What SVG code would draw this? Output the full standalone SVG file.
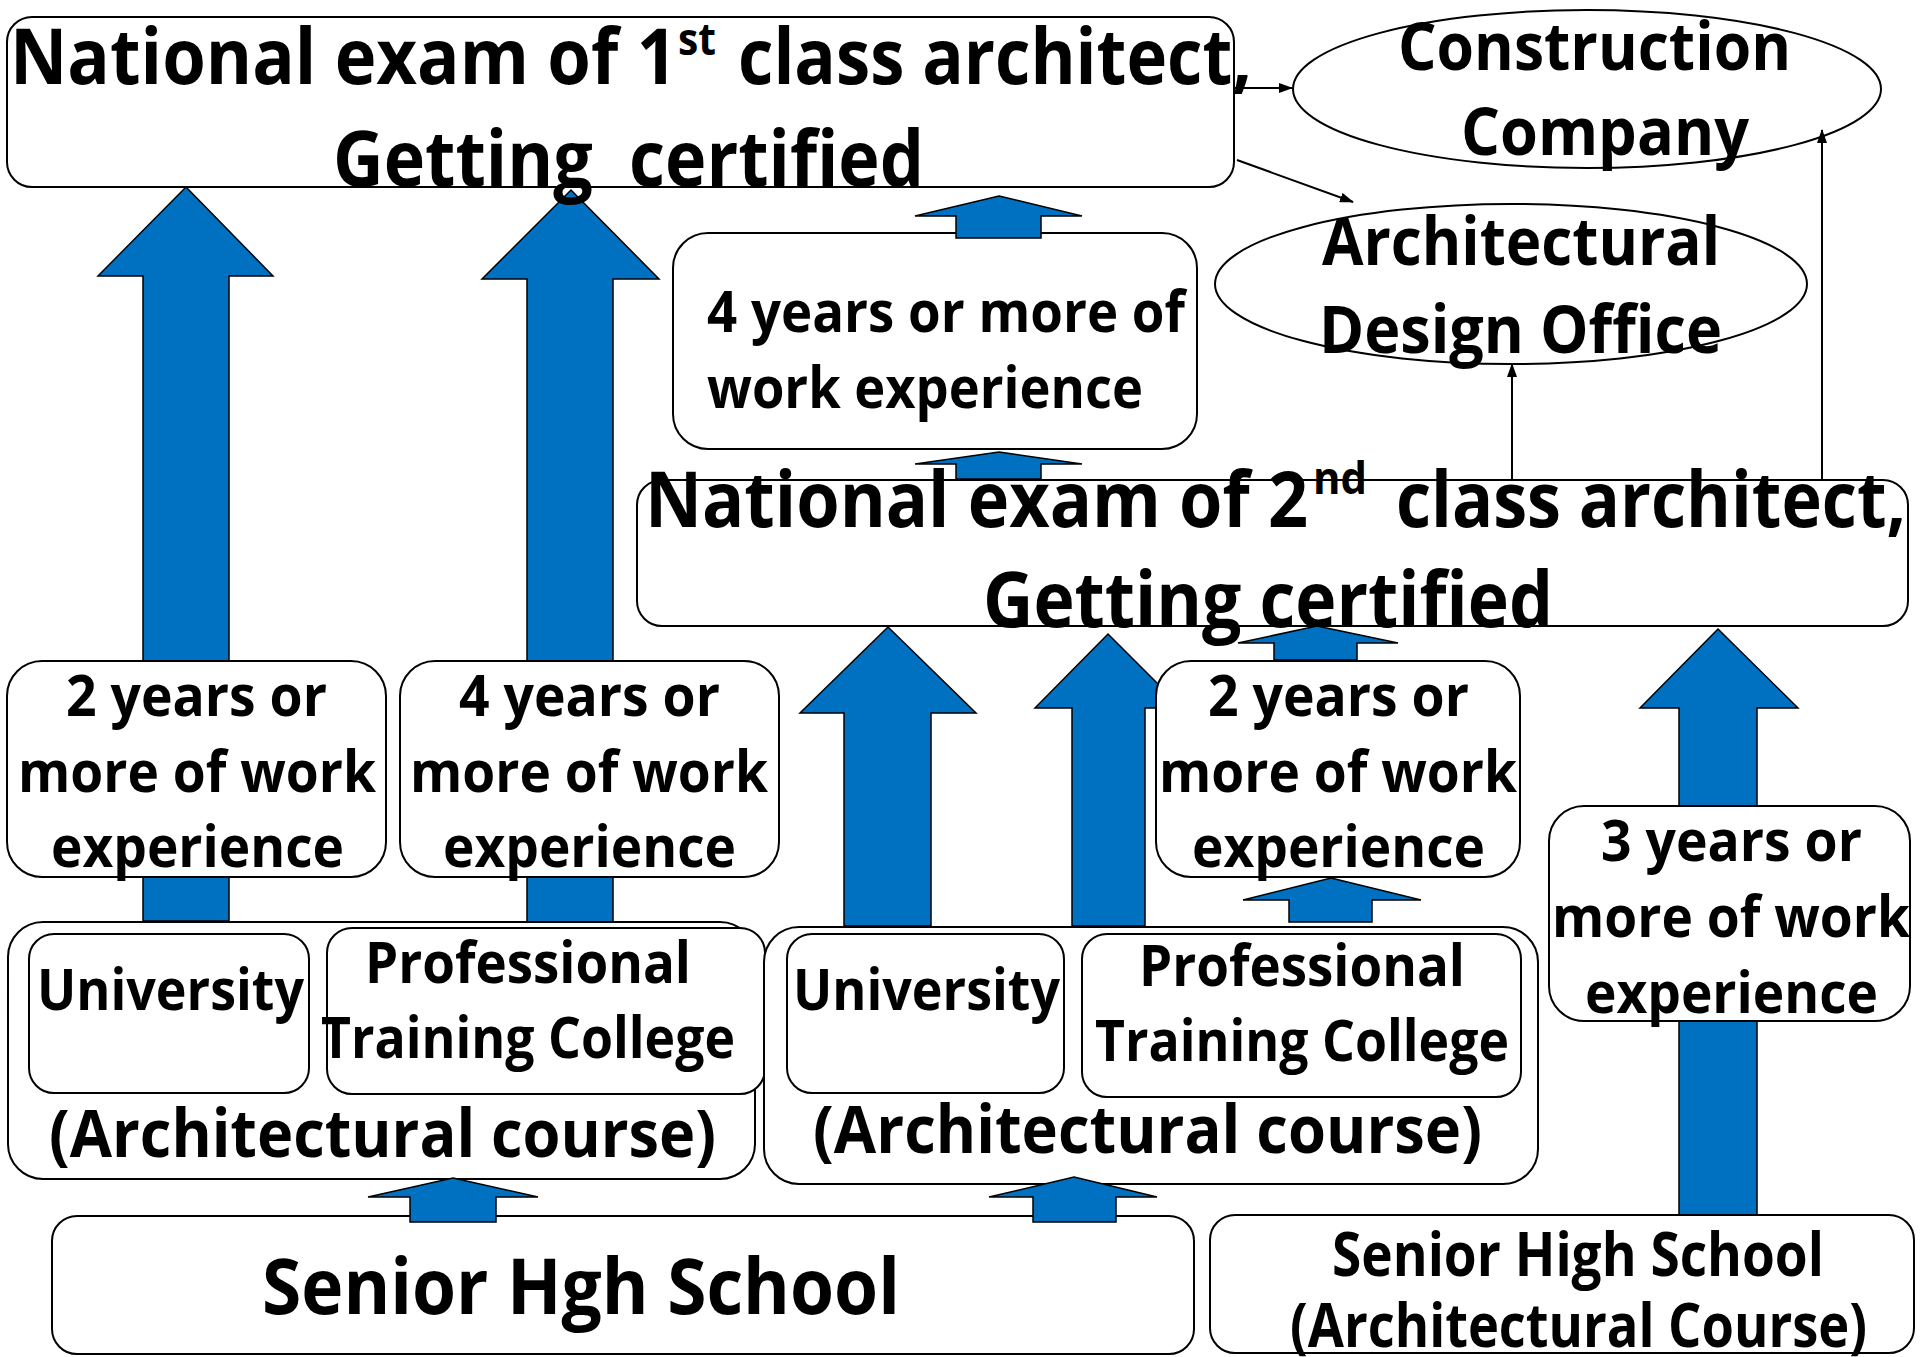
<svg xmlns="http://www.w3.org/2000/svg" width="1920" height="1357" viewBox="0 0 1920 1357">
<defs>
<style>
.box{fill:#fff;stroke:#000;stroke-width:2}
.ell{fill:#fff;stroke:#000;stroke-width:2}
.t{font-family:"Open Sans","Liberation Sans",sans-serif;font-weight:700;fill:#000}
.f77{font-size:77px}
.f67{font-size:67px}
.f58{font-size:58px}
.f60{font-size:60px}
.sup{font-size:44px}
.blk{fill:#0070C0;stroke:#000;stroke-width:1.5}
.ln{stroke:#000;stroke-width:2;fill:none;marker-end:url(#ah)}
</style>
<marker id="ah" viewBox="0 0 14 10" refX="13" refY="5" markerWidth="14" markerHeight="10" markerUnits="userSpaceOnUse" orient="auto">
<path d="M0,0 L14,5 L0,10 Z" fill="#000"/>
</marker>
</defs>
<rect width="1920" height="1357" fill="#fff"/>

<g id="connectors">
<path class="blk" d="M186,187 L273,276 L229,276 L229,921 L143,921 L143,276 L98,276 Z"/>
<path class="blk" d="M571,190 L659,279 L613,279 L613,926 L527,926 L527,279 L482,279 Z"/>
<path class="blk" d="M888,627 L976,713 L931,713 L931,926 L844,926 L844,713 L800,713 Z"/>
<path class="blk" d="M1108,634 L1182,708 L1145,708 L1145,926 L1072,926 L1072,708 L1035,708 Z"/>
<path class="blk" d="M1718,629 L1798,708 L1757,708 L1757,1215 L1679,1215 L1679,708 L1640,708 Z"/>
</g>

<g id="node-exam1">
<rect class="box" x="7" y="17" width="1227" height="170" rx="25"/>
<text class="t f77" x="10" y="84" textLength="667" lengthAdjust="spacingAndGlyphs">National exam of 1</text>
<text class="t sup" x="678" y="55" textLength="38" lengthAdjust="spacingAndGlyphs">st</text>
<text class="t f77" x="738" y="84" textLength="514" lengthAdjust="spacingAndGlyphs">class architect,</text>
<text class="t f77" x="333" y="186" textLength="591" lengthAdjust="spacingAndGlyphs" xml:space="preserve">Getting  certified</text>
</g>

<g id="node-construction">
<ellipse class="ell" cx="1587" cy="89" rx="294" ry="79"/>
<text class="t f67" x="1398" y="70" textLength="393" lengthAdjust="spacingAndGlyphs">Construction</text>
<text class="t f67" x="1461" y="155" textLength="288" lengthAdjust="spacingAndGlyphs">Company</text>
</g>

<g id="node-design-office">
<ellipse class="ell" cx="1511" cy="284" rx="296" ry="80"/>
<text class="t f67" x="1322" y="265" textLength="398" lengthAdjust="spacingAndGlyphs">Architectural</text>
<text class="t f67" x="1319" y="353" textLength="403" lengthAdjust="spacingAndGlyphs">Design Office</text>
</g>

<g id="node-exp4-top">
<rect class="box" x="673" y="233" width="524" height="216" rx="35"/>
<text class="t f58" x="707" y="332" textLength="478" lengthAdjust="spacingAndGlyphs">4 years or more of</text>
<text class="t f58" x="707" y="408" textLength="436" lengthAdjust="spacingAndGlyphs">work experience</text>
</g>

<g id="node-exam2">
<rect class="box" x="637" y="480" width="1271" height="146" rx="25"/>
<text class="t f77" x="645" y="527" textLength="663" lengthAdjust="spacingAndGlyphs">National exam of 2</text>
<text class="t sup" x="1313" y="494" textLength="54" lengthAdjust="spacingAndGlyphs">nd</text>
<text class="t f77" x="1396" y="527" textLength="510" lengthAdjust="spacingAndGlyphs">class architect,</text>
<text class="t f77" x="983" y="627" textLength="570" lengthAdjust="spacingAndGlyphs">Getting certified</text>
</g>

<g id="node-exp2-left">
<rect class="box" x="7" y="661" width="379" height="216" rx="35"/>
<text class="t f58" x="66" y="716" textLength="261" lengthAdjust="spacingAndGlyphs">2 years or</text>
<text class="t f58" x="18" y="792" textLength="358" lengthAdjust="spacingAndGlyphs">more of work</text>
<text class="t f58" x="51" y="867" textLength="293" lengthAdjust="spacingAndGlyphs">experience</text>
</g>

<g id="node-exp4-left">
<rect class="box" x="400" y="661" width="379" height="216" rx="35"/>
<text class="t f58" x="459" y="716" textLength="261" lengthAdjust="spacingAndGlyphs">4 years or</text>
<text class="t f58" x="410" y="792" textLength="358" lengthAdjust="spacingAndGlyphs">more of work</text>
<text class="t f58" x="443" y="867" textLength="293" lengthAdjust="spacingAndGlyphs">experience</text>
</g>

<g id="node-exp2-mid">
<rect class="box" x="1156" y="661" width="364" height="216" rx="35"/>
<text class="t f58" x="1208" y="716" textLength="261" lengthAdjust="spacingAndGlyphs">2 years or</text>
<text class="t f58" x="1159" y="792" textLength="358" lengthAdjust="spacingAndGlyphs">more of work</text>
<text class="t f58" x="1192" y="867" textLength="293" lengthAdjust="spacingAndGlyphs">experience</text>
</g>

<g id="node-exp3-right">
<rect class="box" x="1549" y="806" width="361" height="215" rx="35"/>
<text class="t f58" x="1601" y="861" textLength="261" lengthAdjust="spacingAndGlyphs">3 years or</text>
<text class="t f58" x="1552" y="937" textLength="358" lengthAdjust="spacingAndGlyphs">more of work</text>
<text class="t f58" x="1585" y="1013" textLength="293" lengthAdjust="spacingAndGlyphs">experience</text>
</g>

<g id="node-course-left">
<rect class="box" x="8" y="922" width="747" height="257" rx="35"/>
<rect class="box" x="29" y="934" width="280" height="159" rx="25"/>
<rect class="box" x="327" y="928" width="438" height="166" rx="25"/>
<text class="t f58" x="37" y="1010" textLength="267" lengthAdjust="spacingAndGlyphs">University</text>
<text class="t f58" x="365" y="983" textLength="326" lengthAdjust="spacingAndGlyphs">Professional</text>
<text class="t f58" x="321" y="1058" textLength="414" lengthAdjust="spacingAndGlyphs">Training College</text>
<text class="t f67" x="49" y="1157" textLength="667" lengthAdjust="spacingAndGlyphs">(Architectural course)</text>
</g>

<g id="node-course-mid">
<rect class="box" x="764" y="927" width="774" height="257" rx="35"/>
<rect class="box" x="787" y="934" width="277" height="159" rx="25"/>
<rect class="box" x="1082" y="934" width="439" height="163" rx="25"/>
<text class="t f58" x="793" y="1010" textLength="267" lengthAdjust="spacingAndGlyphs">University</text>
<text class="t f58" x="1139" y="986" textLength="326" lengthAdjust="spacingAndGlyphs">Professional</text>
<text class="t f58" x="1095" y="1061" textLength="414" lengthAdjust="spacingAndGlyphs">Training College</text>
<text class="t f67" x="813" y="1153" textLength="669" lengthAdjust="spacingAndGlyphs">(Architectural course)</text>
</g>

<g id="node-shs">
<rect class="box" x="52" y="1216" width="1142" height="138" rx="25"/>
<text class="t f77" x="262" y="1314" textLength="638" lengthAdjust="spacingAndGlyphs">Senior Hgh School</text>
</g>

<g id="node-shs-arch">
<rect class="box" x="1210" y="1215" width="704" height="138" rx="25"/>
<text class="t f60" x="1332" y="1276" textLength="492" lengthAdjust="spacingAndGlyphs">Senior High School</text>
<text class="t f60" x="1290" y="1347" textLength="577" lengthAdjust="spacingAndGlyphs">(Architectural Course)</text>
</g>

<g id="connectors-over">
<path class="blk" d="M999,196 L1082,216 L1041,216 L1041,238 L956,238 L956,216 L915,216 Z"/>
<path class="blk" d="M999,452 L1082,464 L1041,464 L1041,479 L956,479 L956,464 L915,464 Z"/>
<path class="blk" d="M1317,626 L1398,643 L1357,643 L1357,660 L1274,660 L1274,643 L1238,643 Z"/>
<path class="blk" d="M1331,878 L1421,900 L1372,900 L1372,922 L1289,922 L1289,900 L1243,900 Z"/>
<path class="blk" d="M453,1178 L538,1197 L496,1197 L496,1222 L410,1222 L410,1197 L368,1197 Z"/>
<path class="blk" d="M1074,1177 L1157,1197 L1116,1197 L1116,1222 L1033,1222 L1033,1197 L989,1197 Z"/>
<line class="ln" x1="1235" y1="88" x2="1292" y2="88"/>
<line class="ln" x1="1237" y1="160" x2="1353" y2="202"/>
<line class="ln" x1="1512" y1="480" x2="1512" y2="364"/>
<line class="ln" x1="1822" y1="480" x2="1822" y2="130"/>
</g>
</svg>
